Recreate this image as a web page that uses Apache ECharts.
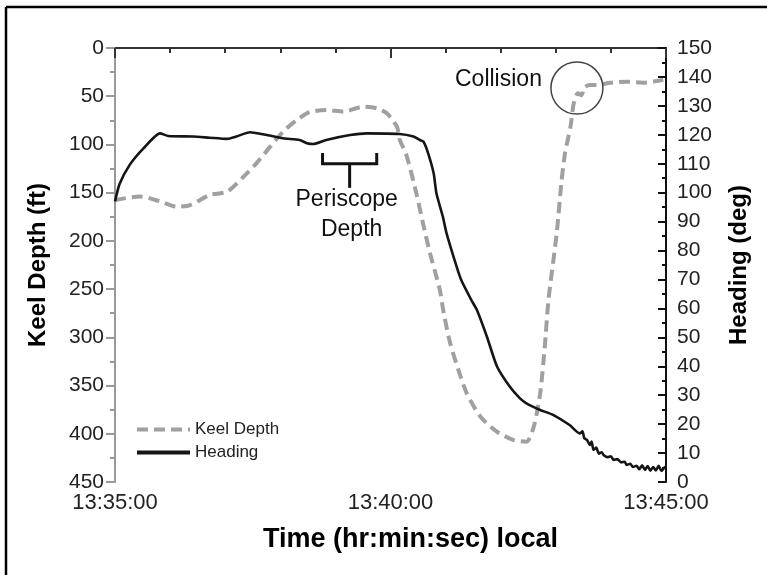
<!DOCTYPE html>
<html>
<head>
<meta charset="utf-8">
<script src="https://cdn.jsdelivr.net/npm/echarts@6/dist/echarts.min.js"></script>
<style>
  html, body { margin: 0; padding: 0; background: #fff; }
  #chart { width: 767px; height: 575px; }
</style>
</head>
<body>
<div id="chart"></div>
<script>
// seconds after 13:35:00
const headingSec = [0, 5, 16, 31, 49, 58, 85, 103, 122, 132, 147, 161, 183, 201, 209, 216, 230, 256, 274, 310, 325, 332, 336, 341, 347, 350, 357, 361, 372, 377, 388, 394, 405, 416, 430, 441, 448, 463, 477, 495, 506, 509, 511, 514, 517, 519, 521, 524, 527, 530, 532, 536, 540, 543, 547, 551, 555, 557, 561, 564, 568, 571, 574, 577, 580, 583, 586, 589, 592, 595, 598, 600]
const headingDeg = [97, 103, 109.6, 115.3, 120.5, 119.6, 119.4, 119, 118.6, 119.4, 120.9, 120.2, 118.8, 118.2, 117.1, 116.8, 118.2, 119.9, 120.5, 120.3, 119.4, 118.2, 117.6, 113.6, 106.7, 99.8, 91.7, 86, 74.4, 69.8, 62.9, 59.5, 50.2, 39.9, 32.9, 28.9, 27.2, 24.9, 23.2, 19.7, 16.8, 17.5, 15.2, 14.5, 12.8, 14, 11.1, 11.9, 9.8, 10.3, 9.3, 8.6, 8.9, 7.6, 7.9, 6.8, 7, 5.9, 6.3, 5.2, 5.6, 4.4, 5.8, 4.2, 5.5, 3.9, 5.2, 4, 5.6, 3.8, 4.9, 5.3]

const keelSec = [0, 27, 49, 67, 82, 103, 122, 140, 154, 169, 183, 198, 212, 230, 249, 270, 285, 296, 307, 310, 317, 328, 335, 343, 350, 354, 358, 365, 374, 383, 398, 416, 434, 448, 456, 463, 468, 472, 481, 486, 490, 496, 499, 501, 504, 508, 511, 517, 525, 539, 557, 575, 586, 597]
const keelFt = [157.6, 154, 159, 164.5, 162.8, 152.4, 149, 133.4, 119.6, 102.3, 86.8, 74.7, 66.5, 64.3, 66, 60.9, 62.5, 67.7, 81.6, 95, 110, 150, 180, 212.9, 237.1, 252, 275, 306.2, 333.9, 358, 382.3, 397.9, 406.5, 408.2, 392.7, 358, 309.7, 261.3, 192.1, 140.3, 109.2, 81.6, 60, 52, 47, 49, 41, 38.4, 38.4, 36, 34.9, 36, 34.9, 33]

const timeLabels = { 0: '13:35:00', 300: '13:40:00', 600: '13:45:00' }

const FONT = '"Liberation Sans", Arial, sans-serif'

const chart = echarts.init(document.getElementById('chart'))

const option = {
  animation: false,
  backgroundColor: '#fff',
  textStyle: { fontFamily: FONT },
  grid: { left: 115, right: 101, top: 48, bottom: 93, containLabel: false },
  legend: {
    left: 130,
    top: 416,
    orient: 'vertical',
    itemWidth: 53,
    itemHeight: 14,
    itemGap: 6,
    itemStyle: { opacity: 0 },
    textStyle: { fontSize: 17, color: '#222', fontFamily: FONT },
    data: [
      { name: 'Keel Depth', lineStyle: { width: 4 } },
      { name: 'Heading', lineStyle: { width: 4 } }
    ]
  },
  xAxis: {
    type: 'value',
    min: 0,
    max: 600,
    interval: 300,
    name: 'Time (hr:min:sec) local',
    nameLocation: 'middle',
    nameGap: 44,
    nameTextStyle: { fontSize: 27, fontWeight: 'bold', color: '#000', padding: [0, 0, 0, 40] },
    axisLine: { lineStyle: { color: '#333', width: 2 } },
    axisTick: { length: 10, lineStyle: { color: '#333', width: 2 } },
    minorTick: { show: true, splitNumber: 5, length: 5, lineStyle: { color: '#333', width: 2 } },
    axisLabel: {
      fontSize: 22,
      color: '#222',
      margin: 10,
      formatter: v => timeLabels[v] || ''
    },
    splitLine: { show: false }
  },
  yAxis: [
    {
      type: 'value',
      inverse: true,
      min: 0,
      max: 450,
      interval: 50,
      position: 'left',
      name: 'Keel Depth (ft)',
      nameLocation: 'middle',
      nameGap: 65,
      nameRotate: 90,
      nameTextStyle: { fontSize: 24, fontWeight: 'bold', color: '#000' },
      axisLine: { show: true, lineStyle: { color: '#9a9a9a', width: 2 } },
      axisTick: { show: true, length: 9, lineStyle: { color: '#9a9a9a', width: 2 } },
      minorTick: { show: true, splitNumber: 2, length: 5, lineStyle: { color: '#9a9a9a', width: 2 } },
      axisLabel: { fontSize: 21, color: '#222', margin: 11 },
      splitLine: { show: false }
    },
    {
      type: 'value',
      min: 0,
      max: 150,
      interval: 10,
      position: 'right',
      name: 'Heading (deg)',
      nameLocation: 'middle',
      nameGap: 61,
      nameRotate: 90,
      nameTextStyle: { fontSize: 24, fontWeight: 'bold', color: '#000' },
      axisLine: { show: true, lineStyle: { color: '#111', width: 2 } },
      axisTick: { show: true, inside: true, length: 8, lineStyle: { color: '#111', width: 2 } },
      minorTick: { show: true, splitNumber: 2, length: 4, lineStyle: { color: '#111', width: 2 } },
      axisLabel: { fontSize: 21, color: '#222', margin: 11 },
      splitLine: { show: false }
    }
  ],
  series: [
    {
      name: 'Keel Depth',
      type: 'line',
      yAxisIndex: 0,
      showSymbol: false,
      symbol: 'none',
      smooth: 0.25,
      color: '#a0a0a0',
      lineStyle: { color: '#a0a0a0', width: 4, type: [11, 6] },
      data: keelSec.map((t, i) => [t, keelFt[i]]),
      z: 2
    },
    {
      name: 'Heading',
      type: 'line',
      yAxisIndex: 1,
      showSymbol: false,
      symbol: 'none',
      smooth: 0.2,
      color: '#151515',
      lineStyle: { color: '#151515', width: 2.6 },
      data: headingSec.map((t, i) => [t, headingDeg[i]]),
      z: 3
    }
  ]
}

chart.setOption(option)

// annotations placed in data coordinates (seconds, keel depth)
function px(t, d) {
  return chart.convertToPixel({ xAxisIndex: 0, yAxisIndex: 0 }, [t, d])
}

const circ = px(503, 41.5)
const bl = px(226, 120)
const br = px(285, 120)
const bTop = px(226, 109)
const stemEnd = px(255.5, 145)
const stemTop = px(255.5, 120)

chart.setOption({
  graphic: [
    // outer frame (left and top edges)
    { type: 'line', shape: { x1: 6, y1: 7, x2: 6, y2: 575 }, style: { stroke: '#000', lineWidth: 2.5 } },
    { type: 'line', shape: { x1: 6, y1: 7, x2: 767, y2: 7 }, style: { stroke: '#000', lineWidth: 2.5 } },
    {
      type: 'circle',
      shape: { cx: circ[0], cy: circ[1], r: 26 },
      style: { fill: 'none', stroke: '#444', lineWidth: 1.5 },
      z: 10
    },
    {
      type: 'text',
      x: circ[0] - 35,
      y: circ[1] - 8,
      style: { text: 'Collision', font: '23px ' + FONT, fill: '#111', textAlign: 'right', textVerticalAlign: 'middle' },
      z: 10
    },
    {
      type: 'polyline',
      shape: { points: [[bl[0], bTop[1]], [bl[0], bl[1]], [br[0], br[1]], [br[0], bTop[1]]] },
      style: { fill: 'none', stroke: '#111', lineWidth: 3 },
      z: 10
    },
    {
      type: 'line',
      shape: { x1: stemTop[0], y1: stemTop[1], x2: stemEnd[0], y2: stemEnd[1] },
      style: { stroke: '#111', lineWidth: 3 },
      z: 10
    },
    {
      type: 'text',
      x: stemEnd[0] - 3,
      y: stemEnd[1] + 12,
      style: { text: 'Periscope', font: '23px ' + FONT, fill: '#111', textAlign: 'center', textVerticalAlign: 'middle' },
      z: 10
    },
    {
      type: 'text',
      x: stemEnd[0] + 2,
      y: stemEnd[1] + 42,
      style: { text: 'Depth', font: '23px ' + FONT, fill: '#111', textAlign: 'center', textVerticalAlign: 'middle' },
      z: 10
    }
  ]
})
</script>
</body>
</html>
